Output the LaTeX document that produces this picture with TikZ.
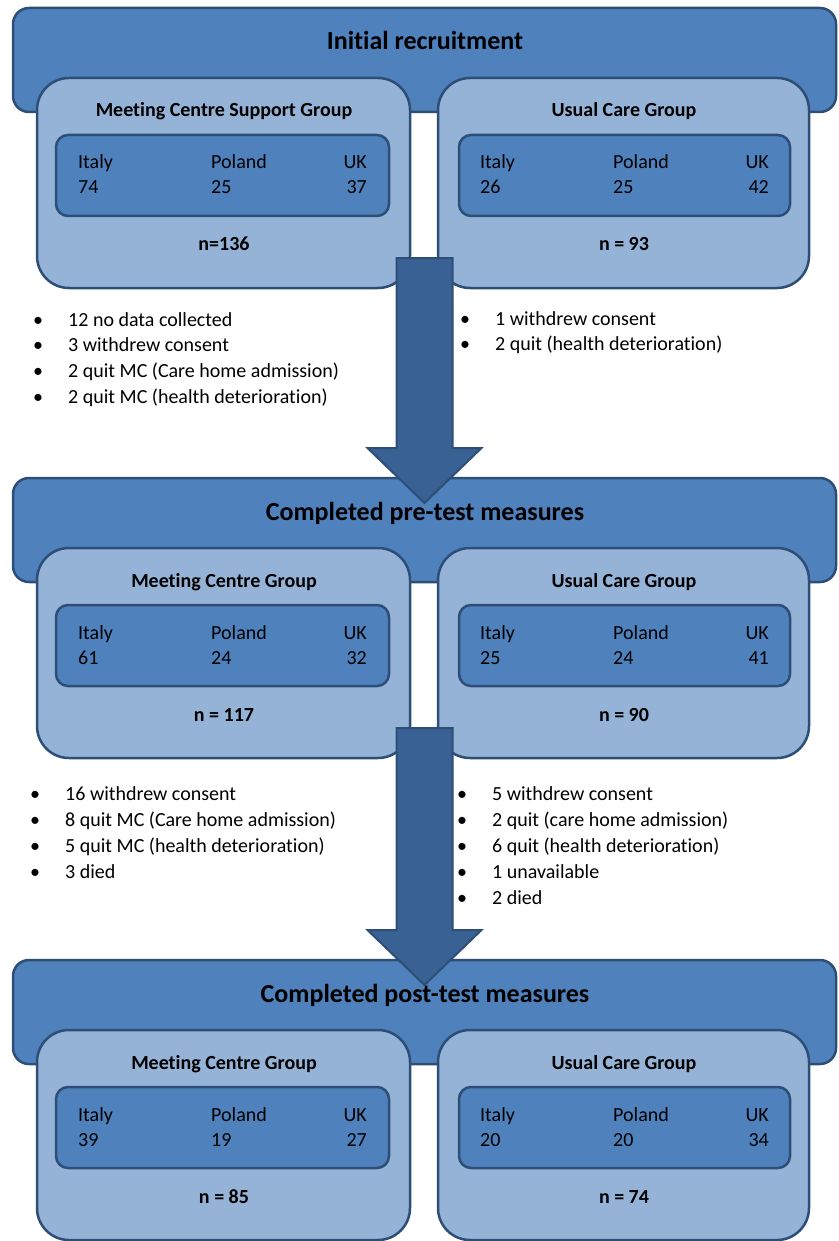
\documentclass[tikz,border=0pt]{standalone}
\usepackage{fontspec}
\setmainfont{Carlito}[Ligatures=NoCommon]
\usetikzlibrary{positioning,calc}

\definecolor{bandblue}{RGB}{79,129,189}
\definecolor{lightblue}{RGB}{149,179,215}
\definecolor{edgeblue}{RGB}{45,78,118}
\definecolor{arrowblue}{RGB}{57,97,147}

\tikzset{
  band/.style={draw=edgeblue, fill=bandblue, line width=2.5pt, rounded corners=16pt,
    minimum width=823pt, minimum height=104pt, inner sep=0pt, outer sep=0pt},
  groupbox/.style={draw=edgeblue, fill=lightblue, line width=2.5pt, rounded corners=32pt,
    minimum height=210pt, inner sep=0pt, outer sep=0pt},
  countrybox/.style={draw=edgeblue, fill=bandblue, line width=2.5pt, rounded corners=12pt,
    minimum height=81pt, inner sep=0pt, outer sep=0pt},
  bigarrow/.style={draw=edgeblue, fill=arrowblue, line width=2pt, line join=miter},
  stagetitle/.style={font=\fontsize{26}{30}\selectfont\bfseries, inner sep=0pt,
    text height=23pt, text depth=3pt},
  grouptitle/.style={font=\fontsize{20}{24}\selectfont\bfseries, inner sep=0pt,
    text height=20pt, text depth=4pt},
  cell/.style={font=\fontsize{20}{24}\selectfont, inner sep=0pt,
    text height=20pt, text depth=4pt},
  dropitem/.style={cell, anchor=west}
}

\begin{document}
\begin{tikzpicture}[x=1pt,y=-1pt]
  \useasboundingbox (0,0) rectangle (838,1241);

  % stage boxes
  \foreach \t [count=\i] in {8,478,960}{
    \node[band] (band\i) at (424.5,\t+52) {};
    \node[groupbox, minimum width=373pt] (left\i) at (223.5,\t+175) {};
    \node[groupbox, minimum width=371pt] (right\i) at (623.5,\t+175) {};
    \node[countrybox, minimum width=333pt] (lcty\i) at (222.5,\t+167.5) {};
    \node[countrybox, minimum width=331pt] (rcty\i) at (624.5,\t+167.5) {};
  }

  % flow arrows
  \foreach \i/\j in {1/2,2/3}{
    \coordinate (top\i) at ($(band\i.center |- left\i.south)+(0,-30)$);
    \coordinate (tip\i) at ($(band\j.north)+(0,25)$);
    \draw[bigarrow] ($(top\i)+(-28,0)$) -- ($(top\i)+(28,0)$) -- ($(tip\i)+(28,-55)$)
      -- ($(tip\i)+(57,-55)$) -- (tip\i) -- ($(tip\i)+(-57,-55)$) -- ($(tip\i)+(-28,-55)$) -- cycle;
  }

  % texts of the stages
  \foreach \stage/\lgrp/\la/\lb/\lc/\ln/\rgrp/\ra/\rb/\rc/\rn [count=\i] in {
    Initial recruitment/Meeting Centre Support Group/74/25/37/n=136/Usual Care Group/26/25/42/n = 93,
    Completed pre-test measures/Meeting Centre Group/61/24/32/n = 117/Usual Care Group/25/24/41/n = 90,
    Completed post-test measures/Meeting Centre Group/39/19/27/n = 85/Usual Care Group/20/20/34/n = 74}{
    \node[stagetitle] (title\i) at ($(band\i.north)+(0.5,32)$) {\stage};
    \node[grouptitle] (lgrp\i) at ($(left\i.north)+(0.5,31)$) {\lgrp};
    \node[grouptitle] (rgrp\i) at ($(right\i.north)+(0.5,31)$) {\rgrp};
    % left group
    \node[cell, anchor=west] (lit\i) at ($(lcty\i.north west)+(22,26)$) {Italy};
    \node[cell, anchor=west] (lpl\i) at ($(lcty\i.north west)+(155,26)$) {Poland};
    \node[cell, anchor=east] (luk\i) at ($(lcty\i.north east)+(-22,26)$) {UK};
    \node[cell, anchor=west] (lita\i) at ($(lcty\i.north west)+(22,51)$) {\la};
    \node[cell, anchor=west] (lpla\i) at ($(lcty\i.north west)+(155,51)$) {\lb};
    \node[cell, anchor=east] (luka\i) at ($(lcty\i.north east)+(-22,51)$) {\lc};
    \node[grouptitle] (ln\i) at ($(left\i.north)+(0.5,165)$) {\ln};
    % right group
    \node[cell, anchor=west] (rit\i) at ($(rcty\i.north west)+(21,26)$) {Italy};
    \node[cell, anchor=west] (rpl\i) at ($(rcty\i.north west)+(154,26)$) {Poland};
    \node[cell, anchor=east] (ruk\i) at ($(rcty\i.north east)+(-21,26)$) {UK};
    \node[cell, anchor=west] (rita\i) at ($(rcty\i.north west)+(21,51)$) {\ra};
    \node[cell, anchor=west] (rpla\i) at ($(rcty\i.north west)+(154,51)$) {\rb};
    \node[cell, anchor=east] (ruka\i) at ($(rcty\i.north east)+(-21,51)$) {\rc};
    \node[grouptitle] (rn\i) at ($(right\i.north)+(0.5,165)$) {\rn};
  }

  % drop-outs
  \foreach \txt [count=\k] in {{12 no data collected}, {3 withdrew consent},
      {2 quit MC (Care home admission)}, {2 quit MC (health deterioration)}}
    \node[dropitem] (dropA\k) at (68,292.3+25.7*\k) {\llap{\textbullet\hspace{25pt}}\txt};
  \foreach \txt [count=\k] in {{1 withdrew consent}, {2 quit (health deterioration)}}
    \node[dropitem] (dropB\k) at (495,291.3+25.7*\k) {\llap{\textbullet\hspace{25pt}}\txt};
  \foreach \txt [count=\k] in {{16 withdrew consent}, {8 quit MC (Care home admission)},
      {5 quit MC (health deterioration)}, {3 died}}
    \node[dropitem] (dropC\k) at (65,766+26*\k) {\llap{\textbullet\hspace{25pt}}\txt};
  \foreach \txt [count=\k] in {{5 withdrew consent}, {2 quit (care home admission)},
      {6 quit (health deterioration)}, {1 unavailable}, {2 died}}
    \node[dropitem] (dropD\k) at (492,766+26*\k) {\llap{\textbullet\hspace{25pt}}\txt};
\end{tikzpicture}
\end{document}
